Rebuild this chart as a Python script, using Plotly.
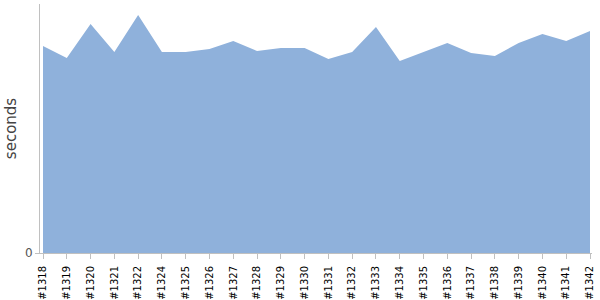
import plotly.graph_objects as go

builds = ["#1318", "#1319", "#1320", "#1321", "#1322", "#1324", "#1325", "#1326",
          "#1327", "#1328", "#1329", "#1330", "#1331", "#1332", "#1333", "#1334",
          "#1335", "#1336", "#1337", "#1338", "#1339", "#1340", "#1341", "#1342"]
seconds = [207, 195, 229, 201, 238, 201, 201, 204, 212, 202, 205, 205, 194, 201,
           226, 192, 201, 210, 200, 197, 210, 219, 212, 222]

fig = go.Figure(go.Scatter(
    x=builds, y=seconds, mode="lines", fill="tozeroy",
    line=dict(width=0, color="#8fb1db"), fillcolor="#8fb1db",
    hoverinfo="x+y",
))

fig.update_layout(
    width=600, height=300,
    margin=dict(l=40, r=8, t=4, b=47),
    paper_bgcolor="white", plot_bgcolor="white",
    showlegend=False,
    font=dict(family="DejaVu Sans, Verdana, sans-serif"),
)
fig.update_xaxes(
    type="category", range=[-0.126, 23.084], automargin=False,
    tickangle=-90, tickfont=dict(size=10, color="#000"),
    ticks="outside", ticklen=5, tickcolor="#c0c0c0",
    ticklabelstandoff=3,
    showline=True, linecolor="#c0c0c0", linewidth=1,
    showgrid=False, zeroline=False,
)
fig.update_yaxes(
    range=[0, 249], tickvals=[0], ticktext=["0"], automargin=False,
    tickfont=dict(size=12, color="#555"),
    ticks="outside", ticklen=4, tickcolor="#c0c0c0",
    showline=True, linecolor="#c0c0c0", linewidth=1,
    showgrid=False, zeroline=False,
    title=dict(text="seconds", font=dict(size=15, color="#444"), standoff=4),
)

fig.write_html("out.html")
